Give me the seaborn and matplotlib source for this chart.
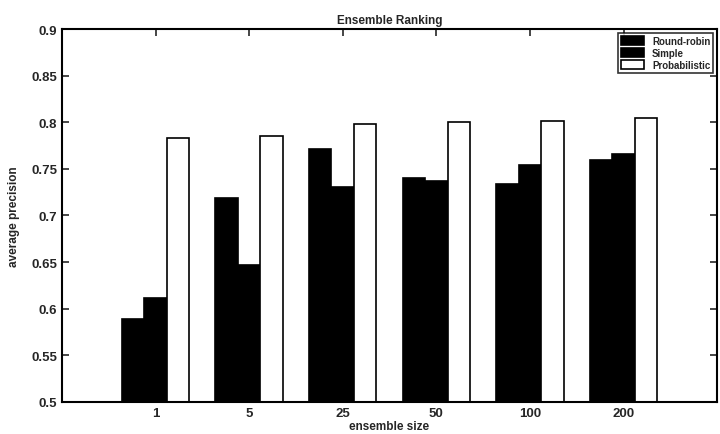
import pandas as pd
import matplotlib
matplotlib.use("Agg")
import matplotlib.pyplot as plt
import seaborn as sns

# values
sizes = ["1", "5", "25", "50", "100", "200"]
round_robin = [0.589, 0.719, 0.771, 0.740, 0.734, 0.759]
simple = [0.611, 0.647, 0.730, 0.737, 0.754, 0.766]
probabilistic = [0.783, 0.785, 0.798, 0.800, 0.801, 0.805]
methods = ["Round-robin", "Simple", "Probabilistic"]
y_ticks = [0.5, 0.55, 0.6, 0.65, 0.7, 0.75, 0.8, 0.85, 0.9]
y_labels = ["0.5", "0.55", "0.6", "0.65", "0.7", "0.75", "0.8", "0.85", "0.9"]

df = pd.DataFrame({
    "size": sizes * 3,
    "precision": round_robin + simple + probabilistic,
    "method": [m for m in methods for _ in sizes],
})

sns.set_style("ticks")
plt.rcParams["font.family"] = ["Liberation Sans", "DejaVu Sans"]
plt.rcParams["font.weight"] = "bold"

fig = plt.figure(figsize=(7.2, 4.35), dpi=100)
ax = fig.add_axes([0.086, 0.074, 0.91, 0.857])

sns.barplot(data=df, x="size", y="precision", hue="method", order=sizes,
            hue_order=methods, palette=["black", "black", "white"],
            saturation=1, edgecolor="black", linewidth=1.2, width=0.72,
            errorbar=None, ax=ax)

ax.set_xlim(-1, 6)
ax.set_ylim(0.5, 0.9)
ax.set_yticks(y_ticks)
ax.set_yticklabels(y_labels)
ax.tick_params(direction="in", top=True, right=True, length=5, width=1.2,
               labelsize=9.5)
for lbl in ax.get_xticklabels() + ax.get_yticklabels():
    lbl.set_fontweight("bold")
for s in ax.spines.values():
    s.set_linewidth(1.5)
    s.set_color("black")

ax.set_title("Ensemble Ranking", fontsize=8.5, fontweight="bold", pad=4)
ax.set_xlabel("ensemble size", fontsize=8.5, fontweight="bold", labelpad=1)
ax.set_ylabel("average precision", fontsize=8.5, fontweight="bold", labelpad=8)

leg = ax.legend(loc="upper right", fontsize=7, frameon=True, fancybox=False,
                borderaxespad=0.4, handlelength=2.4, handleheight=1.0,
                labelspacing=0.2, borderpad=0.3)
leg.get_frame().set_edgecolor("black")
leg.get_frame().set_linewidth(1.2)
for t in leg.get_texts():
    t.set_fontweight("bold")

fig.savefig("out.png", dpi=100)
